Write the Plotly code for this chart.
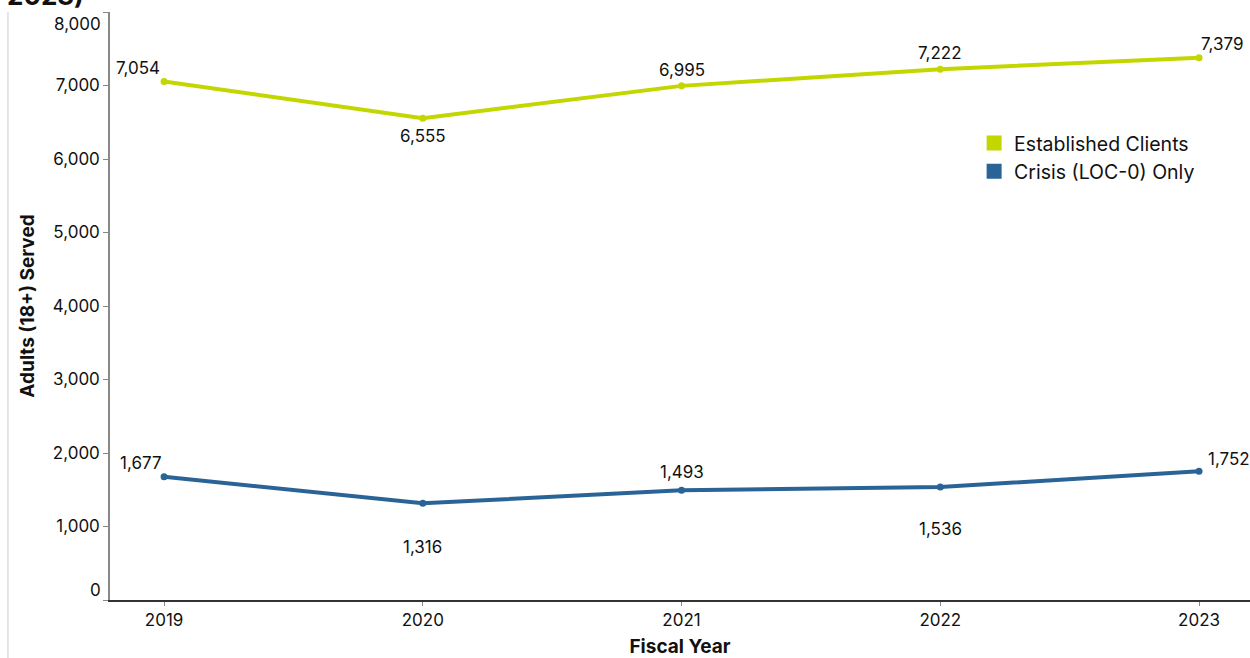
import plotly.graph_objects as go

years = ["2019", "2020", "2021", "2022", "2023"]
established = [7054, 6555, 6995, 7222, 7379]
crisis = [1677, 1316, 1493, 1536, 1752]
series_names = ["Established Clients", "Crisis (LOC-0) Only"]
series_colors = ["#c4d600", "#2a6496"]
y_ticks = [0, 1000, 2000, 3000, 4000, 5000, 6000, 7000, 8000]

# label placement per point: (xanchor, yanchor, xshift, yshift)
est_label_pos = [("right", "bottom", -2, 2), ("center", "top", 0, -6), ("center", "bottom", 0, 4),
                 ("center", "bottom", 0, 4), ("left", "bottom", 0, 2)]
cri_label_pos = [("right", "bottom", 0, 2), ("center", "top", 0, -32), ("center", "bottom", 0, 6),
                 ("center", "top", 0, -30), ("left", "bottom", 7, 0)]

FONT = "Inter, Roboto, sans-serif"
xi = list(range(len(years)))

fig = go.Figure()
for vals, name, color in [(established, series_names[0], series_colors[0]),
                          (crisis, series_names[1], series_colors[1])]:
    fig.add_trace(go.Scatter(
        x=xi, y=vals, mode="lines+markers", name=name, showlegend=False,
        line=dict(color=color, width=4), marker=dict(color=color, size=7),
        hoverinfo="skip"))

# square legend swatches
for name, color in zip(series_names, series_colors):
    fig.add_trace(go.Scatter(
        x=[None], y=[None], mode="markers", name=name,
        marker=dict(symbol="square", size=15, color=color)))

annotations = []
for vals, pos in [(established, est_label_pos), (crisis, cri_label_pos)]:
    for i, (v, p) in enumerate(zip(vals, pos)):
        annotations.append(dict(
            x=i, y=v, xref="x", yref="y", text=f"{v:,}", showarrow=False,
            xanchor=p[0], yanchor=p[1], xshift=p[2], yshift=p[3],
            font=dict(family=FONT, size=17, color="#111")))

# end tick labels nudged inside the plot bounds
annotations.append(dict(x=0, y=8000, xref="paper", yref="y", text="8,000", showarrow=False,
                        xanchor="right", yanchor="middle", xshift=-7, yshift=-12,
                        font=dict(family=FONT, size=17, color="#111")))
annotations.append(dict(x=0, y=0, xref="paper", yref="y", text="0", showarrow=False,
                        xanchor="right", yanchor="middle", xshift=-7, yshift=10,
                        font=dict(family=FONT, size=17, color="#111")))

# tail of the wrapped chart title
annotations.append(dict(x=-0.092, y=1.0, xref="paper", yref="paper", text="<b>2023)</b>",
                        showarrow=False, xanchor="left", yanchor="bottom", yshift=-1,
                        font=dict(family=FONT, size=26, color="#111")))

fig.update_layout(
    width=1250, height=658,
    margin=dict(l=110, r=0, t=12, b=58),
    paper_bgcolor="white", plot_bgcolor="white",
    font=dict(family=FONT, size=17, color="#111"),
    annotations=annotations,
    legend=dict(x=0.758, y=0.81, xanchor="left", yanchor="top",
                font=dict(family=FONT, size=19.5, color="#111"),
                bgcolor="rgba(0,0,0,0)", itemwidth=30, tracegroupgap=0),
    shapes=[dict(type="line", xref="paper", yref="paper", x0=-0.0895, x1=-0.0895,
                 y0=1.0, y1=-0.1, line=dict(color="#cccccc", width=1))],
)

fig.update_xaxes(
    range=[-0.209, 4.197], tickvals=xi, ticktext=years,
    showgrid=False, zeroline=False,
    showline=True, linecolor="#333", linewidth=2,
    ticks="outside", ticklen=4, tickcolor="#888", tickwidth=1,
    ticklabelstandoff=0,
    tickfont=dict(family=FONT, size=17, color="#111"),
    title=dict(text="<b>Fiscal Year</b>", font=dict(family=FONT, size=19, color="#111"), standoff=12),
)
fig.update_yaxes(
    range=[0, 8000], tickvals=y_ticks,
    ticktext=["" if t in (0, 8000) else f"{t:,}" for t in y_ticks],
    showgrid=False, zeroline=False,
    showline=True, linecolor="#888", linewidth=1.5,
    ticks="outside", ticklen=5, tickcolor="#888", tickwidth=1,
    tickfont=dict(family=FONT, size=17, color="#111"),
    title=dict(text="<b>Adults (18+) Served</b>", font=dict(family=FONT, size=19, color="#111"), standoff=13),
)

fig.write_html("out.html")
